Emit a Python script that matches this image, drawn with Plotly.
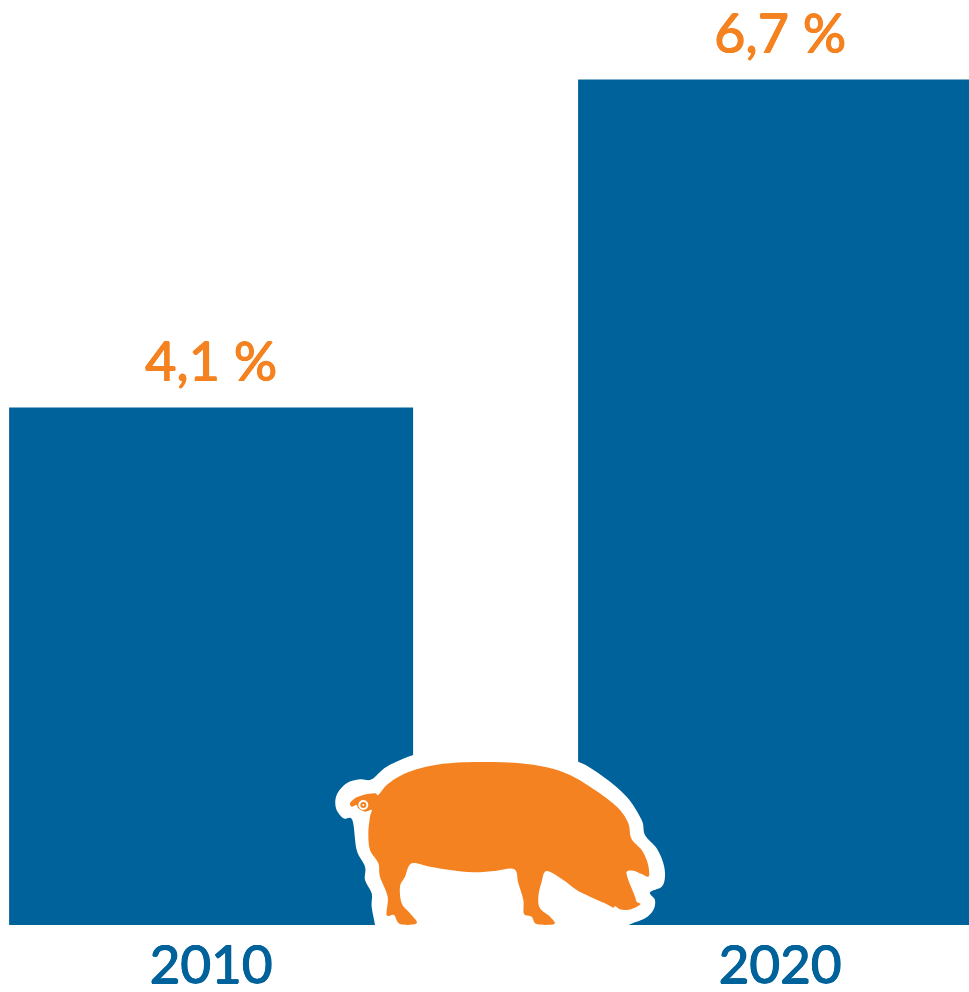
import plotly.graph_objects as go

# Share of pigs per year
years = ["2010", "2020"]
shares = [4.1, 6.7]
share_labels = ["4,1 %", "6,7 %"]

BLUE = "#00629b"
ORANGE = "#f58220"
FIG_W, FIG_H = 969, 992
BASE_Y = 925

# Pig glyph outlines, drawn on a 3x grid anchored at (320, 740) in figure pixels
pig_body = [
    (175,165),(200,135),(240,108),(290,88),(350,74),(430,67),(520,66),(600,70),(680,82),(750,105),
    (810,140),(860,175),(900,210),(925,250),(932,290),(945,310),(965,330),(980,360),(987,390),(985,410),
    (965,402),(940,392),(920,395),(925,420),(935,445),(945,470),(950,485),(962,492),(945,503),(920,510),
    (900,508),(885,498),(880,503),(855,490),(810,470),(770,450),(730,420),(680,393),(665,425),(655,470),
    (660,505),(690,530),(703,552),(650,552),(635,530),(612,522),(610,480),(595,430),(583,388),(530,392),
    (460,397),(390,390),(330,380),(275,370),(255,410),(240,440),(245,490),(270,520),(290,550),(240,552),
    (222,525),(200,525),(203,470),(180,410),(175,370),(150,330),(145,280),(150,230),(155,210),
    (135,215),(115,205),(110,195),(95,200),(90,190),(105,175),(130,165),(165,160),
]
pig_halo = [
    (165,555),(155,500),(155,460),(135,420),(135,380),(110,330),(97,240),(70,235),(48,205),(50,165),
    (80,130),(120,118),(155,118),(200,80),(280,45),(350,30),(520,25),(680,40),(775,65),(850,110),
    (920,170),(965,240),(975,285),(1010,325),(1030,370),(1035,410),(1025,440),(990,457),(1005,480),
    (1000,510),(975,535),(925,556),(900,580),(300,580),(165,580),
]


def to_paper(px, py):
    return (320 + px / 3) / FIG_W, (BASE_Y - (740 + py / 3)) / BASE_Y


def outline(points):
    # Closed Catmull-Rom curve through the outline points
    pts = [to_paper(*p) for p in points]
    n = len(pts)
    parts = [f"M{pts[0][0]:.5f},{pts[0][1]:.5f}"]
    for i in range(n):
        p0, p1, p2, p3 = pts[i - 1], pts[i], pts[(i + 1) % n], pts[(i + 2) % n]
        c1 = (p1[0] + (p2[0] - p0[0]) / 6, p1[1] + (p2[1] - p0[1]) / 6)
        c2 = (p2[0] - (p3[0] - p1[0]) / 6, p2[1] - (p3[1] - p1[1]) / 6)
        parts.append(f"C{c1[0]:.5f},{c1[1]:.5f} {c2[0]:.5f},{c2[1]:.5f} {p2[0]:.5f},{p2[1]:.5f}")
    return " ".join(parts) + " Z"


def dot(px, py, r, color):
    x, y = to_paper(px, py)
    rx, ry = r / FIG_W, r / BASE_Y
    return dict(type="circle", xref="paper", yref="paper", x0=x - rx, x1=x + rx, y0=y - ry, y1=y + ry,
                fillcolor=color, line=dict(width=0))


def thicken(color):
    # Lato has no medium cut here, so a tight shadow adds stroke weight
    return f"0.6px 0 0 {color}, -0.6px 0 0 {color}, 0 0.5px 0 {color}, 0 -0.5px 0 {color}"


fig = go.Figure()
fig.add_trace(go.Bar(x=years, y=shares, width=0.71, marker=dict(color=BLUE, line=dict(width=0)), hoverinfo="skip"))
# Value labels sit above each bar; the transparent marker sets the gap to the bar top
fig.add_trace(go.Scatter(
    x=years, y=shares, text=share_labels, mode="text+markers", textposition="top center",
    marker=dict(size=20, opacity=0), cliponaxis=False, hoverinfo="skip",
    textfont=dict(family="Lato", size=54, color=ORANGE, shadow=thicken(ORANGE)),
))

fig.update_layout(
    width=FIG_W,
    height=FIG_H,
    margin=dict(l=0, r=0, t=0, b=FIG_H - BASE_Y, pad=0),
    paper_bgcolor="white",
    plot_bgcolor="white",
    showlegend=False,
    xaxis=dict(type="category", range=[-0.371, 1.332], showgrid=False, zeroline=False, showline=False,
               automargin=False, ticks="", ticklabelstandoff=4,
               tickfont=dict(family="Lato", size=53, color=BLUE, shadow=thicken(BLUE))),
    yaxis=dict(range=[0, 7.33], showgrid=False, zeroline=False, showline=False, showticklabels=False,
               ticks="", automargin=False),
    shapes=[
        dict(type="path", xref="paper", yref="paper", path=outline(pig_halo), fillcolor="white", line=dict(width=0)),
        dict(type="path", xref="paper", yref="paper", path=outline(pig_body), fillcolor=ORANGE, line=dict(width=0)),
        dot(130, 195, 5, "white"),
        dot(130, 195, 3, ORANGE),
        dot(130, 195, 1, "white"),
    ],
)

fig.write_html("out.html", config=dict(displayModeBar=False))
